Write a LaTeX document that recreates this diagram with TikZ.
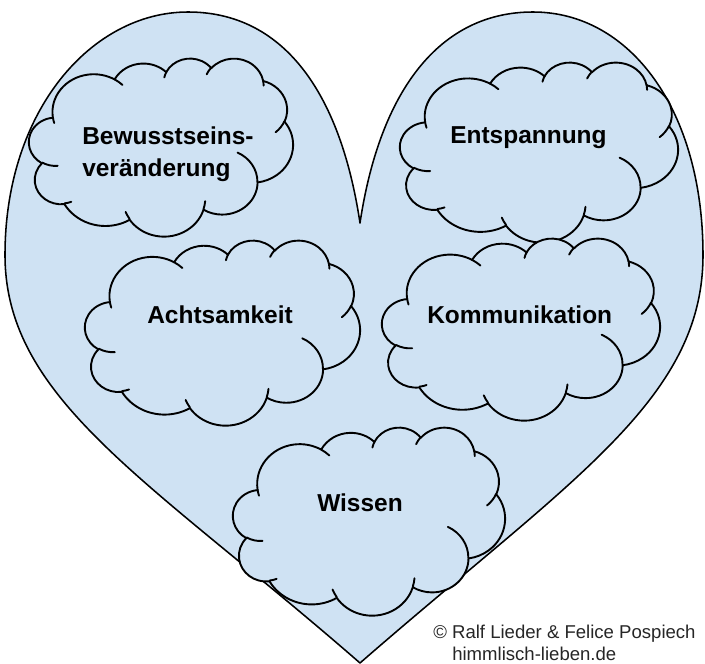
\documentclass[tikz,border=0pt]{standalone}
\usepackage{fontspec}
\setmainfont{Liberation Sans}
\usepackage{xcolor}
\definecolor{heartblue}{HTML}{CFE2F3}
\tikzset{heart/.style={draw=black,line width=1.1pt,fill=heartblue,line join=round},
  cloudline/.style={draw=black,line width=1.35pt,line join=round,line cap=round},
  lbl/.style={inner sep=0pt,text=black,font=\fontsize{17.4}{22.8}\selectfont\bfseries},
  note/.style={inner sep=0pt,text=black!85,font=\fontsize{13.2}{16}\selectfont}}
\newcommand{\carc}[4]{arc[x radius=#1,y radius=#2,start angle={va(#3,#1,#2)},delta angle={Mod(va(#3+#4,#1,#2)-va(#3,#1,#2),360)}]}
\newcommand{\cloudat}[4]{%
  \begin{scope}[shift={(#1,#2)},xscale=#3/432,yscale=#4/432]
    \path[cloudline,fill=heartblue] (39.00,143.70)
      \carc{67.53}{91.90}{-190.4875}{123.7805}
      \carc{53.33}{72.67}{-144.1024}{89.9452}
      \carc{43.65}{59.45}{-145.8079}{99.7230}
      \carc{48.57}{65.95}{-130.9861}{117.2417}
      \carc{53.33}{72.73}{-78.7089}{109.0269}
      \carc{67.75}{92.20}{-46.2673}{130.2690}
      \carc{57.85}{78.67}{0.6250}{114.0333}
      \carc{67.52}{92.15}{22.4516}{115.1726}
      \carc{77.20}{105.43}{66.2426}{75.7110}
      \carc{43.60}{59.18}{-274.9421}{146.7356}
      \carc{43.45}{59.45}{-246.8285}{152.5189} -- cycle;
    \path[cloudline] (46.93,261.77) \carc{43.45}{59.45}{86.7420}{26.4295}
      (69.28,348.99) \carc{43.60}{59.18}{73.6105}{11.4475}
      (164.78,390.90) \carc{67.52}{92.15}{137.6242}{14.0811}
      (288.27,347.51) \carc{67.52}{92.15}{6.4533}{15.9984}
      (341.29,229.54) \carc{57.85}{78.67}{-70.2924}{70.9174}
      (417.98,153.54) \carc{53.33}{72.73}{30.3180}{27.7515}
      (383.24,54.26) \carc{48.57}{65.95}{-13.7443}{14.8538}
      (290.78,39.52) \carc{48.57}{65.95}{-149.1815}{18.1932}
      (221.41,47.20) \carc{43.65}{59.45}{-163.4943}{17.6865}
      (140.00,51.92) \carc{67.53}{91.90}{-66.7070}{12.3194}
      (41.27,157.89) \carc{67.53}{91.90}{157.6544}{11.8582};
  \end{scope}}

\begin{document}
\begin{tikzpicture}[x=0.025cm,y=-0.025cm,
    declare function={va(\a,\p,\q)=atan2(\p*sin(\a),\q*cos(\a));}]
    \useasboundingbox (0,0) rectangle (705,664);

    \draw[heart] (360,223) .. controls (340,90) and (282,12) .. (188,12)
      .. controls (92,12) and (5,110) .. (5,255)
      .. controls (5,400) and (150,480) .. (360,663)
      .. controls (570,480) and (703,400) .. (703,255)
      .. controls (703,110) and (630,12) .. (533,12)
      .. controls (440,12) and (380,90) .. (360,223) -- cycle;

    \cloudat{29}{58}{264}{178}
    \cloudat{400}{62}{278}{180}
    \cloudat{85}{240}{275}{185}
    \cloudat{382}{238}{278}{182}
    \cloudat{233}{427}{272}{188}

    \node[lbl,anchor=north west,align=left] (bewusst) at (82,126) {Bewusstseins-\\veränderung};
    \node[lbl,anchor=base west] (entsp) at (450,143) {Entspannung};
    \node[lbl,anchor=base west] (acht) at (147,323) {Achtsamkeit};
    \node[lbl,anchor=base west] (komm) at (427,323) {Kommunikation};
    \node[lbl,anchor=base west] (wissen) at (317,511) {Wissen};

    \node[note,anchor=base west] (copy) at (433,638) {© Ralf Lieder \& Felice Pospiech};
    \node[note,anchor=base west] (site) at (452,660) {himmlisch-lieben.de};
\end{tikzpicture}
\end{document}
